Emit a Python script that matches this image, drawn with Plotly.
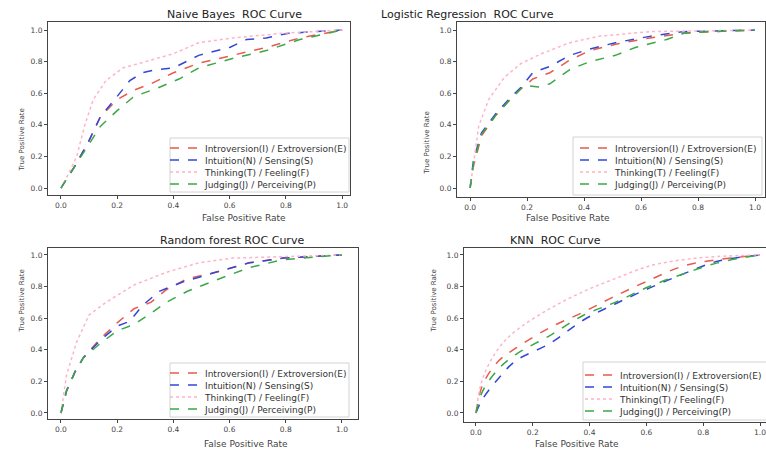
import plotly.graph_objects as go

# ---------------- data ----------------
series_names = ["Introversion(I) / Extroversion(E)", "Intuition(N) / Sensing(S)",
                "Thinking(T) / Feeling(F)", "Judging(J) / Perceiving(P)"]
panel_titles = ["Naive Bayes  ROC Curve", "Logistic Regression  ROC Curve",
                "Random forest ROC Curve", "KNN  ROC Curve"]
tick_vals = [0.0, 0.2, 0.4, 0.6, 0.8, 1.0]
tick_text = ["0.0", "0.2", "0.4", "0.6", "0.8", "1.0"]

# Naive Bayes
nb_ie_x = [0, 0.05, 0.10, 0.14, 0.20, 0.26, 0.32, 0.40, 0.49, 0.61, 0.73, 0.85, 1.0]
nb_ie_y = [0, 0.14, 0.30, 0.45, 0.56, 0.62, 0.66, 0.73, 0.79, 0.84, 0.89, 0.95, 1.0]
nb_ns_x = [0, 0.05, 0.10, 0.14, 0.20, 0.245, 0.29, 0.34, 0.40, 0.49, 0.60, 0.66, 0.73, 0.81, 1.0]
nb_ns_y = [0, 0.14, 0.30, 0.45, 0.58, 0.68, 0.73, 0.75, 0.76, 0.84, 0.89, 0.94, 0.95, 0.98, 1.0]
nb_tf_x = [0, 0.03, 0.056, 0.085, 0.115, 0.16, 0.22, 0.32, 0.40, 0.49, 0.61, 0.79, 1.0]
nb_tf_y = [0, 0.10, 0.20, 0.40, 0.56, 0.68, 0.76, 0.81, 0.85, 0.92, 0.95, 0.98, 1.0]
nb_jp_x = [0, 0.05, 0.10, 0.14, 0.20, 0.26, 0.34, 0.42, 0.49, 0.61, 0.73, 0.85, 1.0]
nb_jp_y = [0, 0.14, 0.28, 0.39, 0.49, 0.58, 0.63, 0.69, 0.76, 0.82, 0.87, 0.94, 1.0]

# Logistic Regression
lr_ie_x = [0, 0.012, 0.04, 0.09, 0.135, 0.18, 0.22, 0.28, 0.35, 0.42, 0.51, 0.63, 0.75, 0.85, 1.0]
lr_ie_y = [0, 0.14, 0.33, 0.46, 0.55, 0.63, 0.69, 0.73, 0.81, 0.87, 0.91, 0.95, 0.98, 0.99, 1.0]
lr_ns_x = [0, 0.012, 0.04, 0.09, 0.135, 0.18, 0.22, 0.28, 0.35, 0.42, 0.51, 0.63, 0.75, 0.85, 1.0]
lr_ns_y = [0, 0.18, 0.35, 0.47, 0.56, 0.64, 0.73, 0.77, 0.84, 0.88, 0.92, 0.96, 0.99, 0.995, 1.0]
lr_tf_x = [0, 0.012, 0.03, 0.065, 0.12, 0.18, 0.25, 0.35, 0.45, 0.63, 1.0]
lr_tf_y = [0, 0.15, 0.39, 0.56, 0.70, 0.79, 0.85, 0.92, 0.96, 0.99, 1.0]
lr_jp_x = [0, 0.012, 0.04, 0.09, 0.135, 0.19, 0.24, 0.28, 0.35, 0.42, 0.51, 0.58, 0.69, 0.75, 0.85, 1.0]
lr_jp_y = [0, 0.16, 0.34, 0.46, 0.55, 0.65, 0.64, 0.66, 0.75, 0.80, 0.84, 0.89, 0.94, 0.98, 0.99, 1.0]

# Random forest
rf_ie_x = [0, 0.02, 0.05, 0.08, 0.14, 0.20, 0.26, 0.32, 0.375, 0.45, 0.55, 0.67, 0.79, 1.0]
rf_ie_y = [0, 0.14, 0.26, 0.35, 0.47, 0.57, 0.66, 0.70, 0.78, 0.85, 0.89, 0.95, 0.98, 1.0]
rf_ns_x = [0, 0.02, 0.05, 0.08, 0.14, 0.20, 0.245, 0.29, 0.35, 0.435, 0.55, 0.67, 0.79, 1.0]
rf_ns_y = [0, 0.14, 0.26, 0.35, 0.46, 0.55, 0.58, 0.68, 0.77, 0.83, 0.89, 0.95, 0.98, 1.0]
rf_tf_x = [0, 0.02, 0.056, 0.10, 0.16, 0.26, 0.375, 0.49, 0.61, 0.80, 1.0]
rf_tf_y = [0, 0.24, 0.45, 0.62, 0.70, 0.81, 0.89, 0.95, 0.98, 0.99, 1.0]
rf_jp_x = [0, 0.02, 0.05, 0.08, 0.14, 0.20, 0.26, 0.32, 0.375, 0.45, 0.55, 0.67, 0.79, 1.0]
rf_jp_y = [0, 0.14, 0.26, 0.35, 0.44, 0.52, 0.56, 0.63, 0.70, 0.77, 0.84, 0.92, 0.97, 1.0]

# KNN
knn_x = [0, 0.024, 0.08, 0.14, 0.26, 0.38, 0.49, 0.61, 0.73, 0.85, 1.0]
knn_ie_y = [0, 0.18, 0.33, 0.41, 0.54, 0.64, 0.74, 0.84, 0.93, 0.97, 1.0]
knn_ns_y = [0, 0.09, 0.22, 0.33, 0.44, 0.59, 0.69, 0.79, 0.88, 0.96, 1.0]
knn_tf_y = [0, 0.22, 0.41, 0.52, 0.66, 0.77, 0.85, 0.93, 0.97, 0.99, 1.0]
knn_jp_y = [0, 0.14, 0.28, 0.37, 0.49, 0.62, 0.70, 0.80, 0.88, 0.95, 1.0]

panels = [
    [(nb_ie_x, nb_ie_y), (nb_ns_x, nb_ns_y), (nb_tf_x, nb_tf_y), (nb_jp_x, nb_jp_y)],
    [(lr_ie_x, lr_ie_y), (lr_ns_x, lr_ns_y), (lr_tf_x, lr_tf_y), (lr_jp_x, lr_jp_y)],
    [(rf_ie_x, rf_ie_y), (rf_ns_x, rf_ns_y), (rf_tf_x, rf_tf_y), (rf_jp_x, rf_jp_y)],
    [(knn_x, knn_ie_y), (knn_x, knn_ns_y), (knn_x, knn_tf_y), (knn_x, knn_jp_y)],
]

# ---------------- styling / layout ----------------
W, H = 766, 450
colors = ["#e85a4f", "#3347d6", "#ffb3c6", "#3aa847"]
dashes = ["dash", "dash", "dot", "dash"]

# pixel boxes: (left, right, top, bottom)
boxes = [(48, 350, 22, 195), (457, 765, 22, 197), (48, 358, 248, 419), (464, 766, 248, 422)]
xranges = [[-0.046, 1.028], [-0.046, 1.035], [-0.046, 1.057], [-0.042, 1.021]]
yranges = [[-0.044, 1.051], [-0.057, 1.051], [-0.038, 1.044], [-0.057, 1.044]]
title_pos = [(165, 15), (556, 15), (158, 240), (603, 240)]
xlab_pos = [(201, 217), (611, 217), (203, 443), (620, 443)]
ylab_pos = [(15, 107), (426, 110), (15, 335), (433, 335)]
# legend frame (left, right, top, bottom), first row centre, text start x
leg_frames = [(170, 349, 138, 192), (573, 762, 137, 195), (170, 349, 363, 417), (583, 790, 362, 420)]
leg_row0 = [148, 148, 373, 375]
leg_text_x = [205, 615, 205, 620]
row_step = 12

font_family = "DejaVu Sans"
fig = go.Figure()
layout = dict(
    width=W, height=H, plot_bgcolor="white", paper_bgcolor="white",
    margin=dict(l=0, r=0, t=0, b=0, autoexpand=False),
    font=dict(family=font_family, size=8, color="#333"),
    showlegend=True,
    annotations=[], shapes=[],
)

leg_idx = 1
for p in range(4):
    sfx = "" if p == 0 else str(p + 1)
    for s in range(4):
        leg_idx += 1
        leg = "legend" + str(leg_idx)
        xs, ys = panels[p][s]
        fig.add_trace(go.Scatter(
            x=xs, y=ys, mode="lines", name=series_names[s], showlegend=True,
            line=dict(color=colors[s], dash=dashes[s], width=1.5,
                      shape="spline" if p == 3 else "linear"),
            xaxis="x" + sfx, yaxis="y" + sfx, legend=leg,
        ))
        layout[leg] = dict(x=(leg_text_x[p] - 40) / W, y=1 - (leg_row0[p] + row_step * s) / H,
                           xanchor="left", yanchor="middle",
                           bgcolor="rgba(0,0,0,0)", borderwidth=0,
                           font=dict(size=9, family=font_family, color="#333"),
                           itemwidth=30, tracegroupgap=0)
    l, r, t, b = boxes[p]
    axcommon = dict(showgrid=False, zeroline=False, showline=True, linecolor="#444",
                    linewidth=1, mirror=True, ticks="outside", ticklen=3, tickcolor="#444",
                    tickvals=tick_vals, ticktext=tick_text, ticklabeloverflow="allow",
                    tickfont=dict(size=7.5, family=font_family, color="#444"))
    layout["xaxis" + sfx] = dict(axcommon, domain=[l / W, r / W], range=xranges[p],
                                 anchor="y" + sfx)
    layout["yaxis" + sfx] = dict(axcommon, domain=[1 - b / H, 1 - t / H], range=yranges[p],
                                 anchor="x" + sfx)
    fl, fr, ft, fb = leg_frames[p]
    layout["shapes"].append(dict(type="rect", xref="paper", yref="paper",
                                 x0=fl / W, x1=fr / W, y0=1 - fb / H, y1=1 - ft / H,
                                 line=dict(color="#d3d3d3", width=1),
                                 fillcolor="rgba(255,255,255,0.8)", layer="above"))
    tx, ty = title_pos[p]
    layout["annotations"].append(dict(text=panel_titles[p], x=tx / W, y=1 - ty / H,
                                      xref="paper", yref="paper", showarrow=False,
                                      yanchor="middle",
                                      font=dict(size=11, family=font_family, color="#222")))
    xx, xy = xlab_pos[p]
    layout["annotations"].append(dict(text="False Positive Rate", x=xx / W, y=1 - (xy - 5) / H,
                                      xref="paper", yref="paper", showarrow=False,
                                      yanchor="top", borderpad=0,
                                      font=dict(size=9, family=font_family, color="#444")))
    yx, yy = ylab_pos[p]
    layout["annotations"].append(dict(text="True Positive Rate", x=yx / W, y=1 - yy / H,
                                      xref="paper", yref="paper", showarrow=False, textangle=-90,
                                      font=dict(size=7, family=font_family, color="#444")))

fig.update_layout(**layout)
fig.write_html("out.html")
